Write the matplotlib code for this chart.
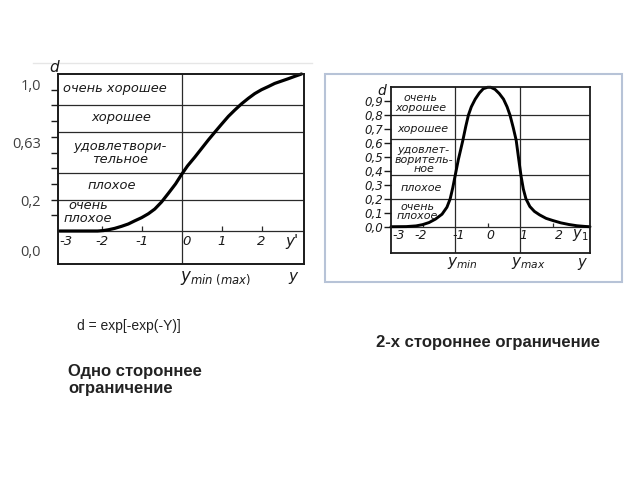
import numpy as np
import matplotlib
matplotlib.use("Agg")
import matplotlib.pyplot as plt
from matplotlib.patches import Rectangle
from matplotlib.lines import Line2D

W, H = 640, 480

# ---------------- data ----------------
# one-sided desirability d = exp[-exp(-Y)]
left_y = [-3.05, -2.5, -2.1, -1.95, -1.83, -1.67, -1.5, -1.33, -1.17, -1.0, -0.83, -0.67,
          -0.5, -0.33, -0.15, 0.0, 0.15, 0.33, 0.5, 0.67, 0.85, 1.0, 1.17, 1.33, 1.5, 1.67,
          1.83, 2.0, 2.17, 2.33, 2.5, 2.67, 2.83, 3.0]
left_d = [0.0, 0.0, 0.0, 0.003, 0.008, 0.017, 0.03, 0.045, 0.065, 0.085, 0.11, 0.14,
          0.185, 0.24, 0.30, 0.36, 0.415, 0.47, 0.525, 0.58, 0.635, 0.68, 0.73, 0.77, 0.81, 0.845,
          0.875, 0.9, 0.92, 0.94, 0.955, 0.97, 0.985, 1.0]

# two-sided desirability
right_y = [-2.97, -2.5, -2.2, -2.0, -1.8, -1.6, -1.4, -1.25, -1.15, -1.07, -1.0, -0.9,
           -0.76, -0.67, -0.59, -0.5, -0.38, -0.25, -0.13, 0.0, 0.1, 0.23, 0.36, 0.49, 0.6,
           0.69, 0.79, 0.88, 0.96, 1.03, 1.1, 1.18, 1.3, 1.44, 1.6, 1.8, 2.0, 2.25, 2.5,
           2.75, 3.0, 3.15]
right_d = [0.0, 0.001, 0.006, 0.015, 0.03, 0.055, 0.09, 0.14, 0.2, 0.28, 0.363, 0.48,
           0.62, 0.72, 0.80, 0.86, 0.915, 0.96, 0.99, 1.0, 1.0, 0.985, 0.955, 0.915, 0.86,
           0.80, 0.71, 0.62, 0.48, 0.363, 0.27, 0.2, 0.145, 0.11, 0.085, 0.06, 0.045, 0.028, 0.016,
           0.007, 0.002, 0.0]

bounds = [0.0, 0.2, 0.37, 0.63, 0.8]

left_xticks = [-3, -2, -1, 0, 1, 2]
left_xlabels = ["-3", "-2", "-1", "0", "1", "2"]
right_xticks = [-3, -2, -1, 0, 1, 2]
right_xlabels = ["-3", "-2", "-1", "0", "1", "2"]

right_yticks = [0.0, 0.1, 0.2, 0.3, 0.4, 0.5, 0.6, 0.7, 0.8, 0.9]
right_ylabels = ["0,0", "0,1", "0,2", "0,3", "0,4", "0,5", "0,6", "0,7", "0,8", "0,9"]

outer_labels = ["1,0", "0,63", "0,2", "0,0"]

left_regions = ["очень хорошее", "хорошее", "удовлетвори-\nтельное", "плохое", "очень\nплохое"]
right_regions = ["очень\nхорошее", "хорошее", "удовлет-\nворитель-\nное", "плохое", "очень\nплохое"]

# ---------------- figure ----------------
fig = plt.figure(figsize=(6.4, 4.8), dpi=100)
fig.patch.set_facecolor("white")


def axrect(x0, y0, x1, y1):
    return [x0 / W, 1 - y1 / H, (x1 - x0) / W, (y1 - y0) / H]


def fx(x):
    return x / W


def fy(y):
    return 1 - y / H


ink = "#1a1a1a"
gridc = "#2a2a2a"

# faint line on top of left picture
fig.add_artist(Line2D([fx(33), fx(312)], [fy(62.5), fy(62.5)], color="#e6e6e6", lw=1.0))
# frame around right picture
fig.add_artist(Rectangle((fx(324.5), fy(282)), fx(622) - fx(324.5), fy(74) - fy(282),
                         transform=fig.transFigure, fill=False, edgecolor="#b7c3d7", lw=1.5))

# ---------------- left chart ----------------
axL = fig.add_axes(axrect(58, 74, 303.5, 264))
axL.set_xlim(-3.09, 3.05)
axL.set_ylim(-0.21, 1.0)
for s in axL.spines.values():
    s.set_linewidth(1.4)
    s.set_color(ink)
for b in bounds:
    axL.axhline(b, color=gridc, lw=0.9)
axL.axvline(0, color=gridc, lw=0.9)
axL.vlines([-2, -1, 1, 2], 0, 0.03, color=gridc, lw=0.9)
axL.plot(left_y, left_d, color="black", lw=2.3, solid_capstyle="round",
         solid_joinstyle="round", clip_on=False)
axL.set_xticks([])
axL.set_yticks(np.arange(0.1, 1.0, 0.1))
axL.set_yticklabels([])
axL.tick_params(axis="y", direction="out", length=5, width=1.0, color=ink)
for v, lab in zip(left_xticks, left_xlabels):
    nudge = 0.12 if v in (-3, 0) else 0.0
    axL.text(v + nudge, -0.064, lab, ha="center", va="center", fontsize=9.5,
             style="italic", color=ink)
axL.text(2.75, -0.064, "y'", ha="center", va="center", fontsize=11, style="italic", color=ink)
left_lab_pos = [(-1.66, 0.906), (-1.5, 0.72), (-1.54, 0.50), (-1.75, 0.293), (-2.34, 0.12)]
for txt, (xv, yv) in zip(left_regions, left_lab_pos):
    axL.text(xv, yv, txt, ha="center", va="center", fontsize=9.4, style="italic",
             color=ink, linespacing=1.0)

fig.text(fx(54), fy(67), "d", fontsize=11, style="italic", color=ink, ha="center", va="center")
fig.text(fx(216), fy(278), r"$y_{min\ (max)}$", fontsize=12, color=ink, ha="center", va="center")
fig.text(fx(293), fy(277), "y", fontsize=11, style="italic", color=ink, ha="center", va="center")

outer_y = [87, 145, 203, 252]
for lab, yy in zip(outer_labels, outer_y):
    fig.text(fx(41), fy(yy), lab, fontsize=10.5, family="Open Sans", color="#404040",
             ha="right", va="center")

# ---------------- right chart ----------------
axR = fig.add_axes(axrect(391, 87.3, 590, 253.5))
axR.set_xlim(-2.97, 3.15)
axR.set_ylim(-0.192, 1.0)
for s in axR.spines.values():
    s.set_linewidth(1.3)
    s.set_color(ink)
for b in bounds:
    axR.axhline(b, color=gridc, lw=0.9)
axR.axvline(-1, color=gridc, lw=0.9)
axR.axvline(1, color=gridc, lw=0.9)
axR.vlines([-2, 0, 2], 0, 0.03, color=gridc, lw=0.9)
axR.plot(right_y, right_d, color="black", lw=2.1, solid_capstyle="round",
         solid_joinstyle="round", clip_on=False)
axR.set_xticks([])
axR.set_yticks(right_yticks)
axR.set_yticklabels(right_ylabels, fontsize=8.5, style="italic", color=ink)
axR.tick_params(axis="y", direction="out", length=5, width=1.0, color=ink, pad=1)
for v, lab in zip(right_xticks, right_xlabels):
    nudge = {-3: 0.28, -2: -0.05, -1: 0.1, 0: 0.08, 1: 0.09, 2: 0.2}[v]
    axR.text(v + nudge, -0.06, lab, ha="center", va="center", fontsize=9,
             style="italic", color=ink)
axR.text(2.85, -0.06, r"$y_1$", ha="center", va="center", fontsize=10.5, color=ink)
right_lab_pos = [(-2.05, 0.887), (-2.0, 0.70), (-1.97, 0.48), (-2.05, 0.28), (-2.15, 0.11)]
for txt, (xv, yv) in zip(right_regions, right_lab_pos):
    axR.text(xv, yv, txt, ha="center", va="center", fontsize=8.0, style="italic",
             color=ink, linespacing=0.95)

fig.text(fx(386), fy(91), "d", fontsize=10, style="italic", color=ink, ha="right", va="center")
fig.text(fx(462), fy(263), r"$y_{min}$", fontsize=11, color=ink, ha="center", va="center")
fig.text(fx(528), fy(263), r"$y_{max}$", fontsize=11, color=ink, ha="center", va="center")
fig.text(fx(582), fy(263), "y", fontsize=10.5, style="italic", color=ink, ha="center", va="center")

# ---------------- captions ----------------
fig.text(fx(77), fy(326), "d = exp[-exp(-Y)]", fontsize=10, family="Liberation Sans",
         color="#222222", ha="left", va="center")
fig.text(fx(376), fy(343), "2-х стороннее ограничение", fontsize=12, family="Liberation Sans",
         weight="bold", color="#222222", ha="left", va="center")
fig.text(fx(68), fy(380), "Одно стороннее\nограничение", fontsize=12, family="Liberation Sans",
         weight="bold", color="#222222", ha="left", va="center", linespacing=1.15)

fig.savefig("out.png", dpi=100, facecolor="white")
